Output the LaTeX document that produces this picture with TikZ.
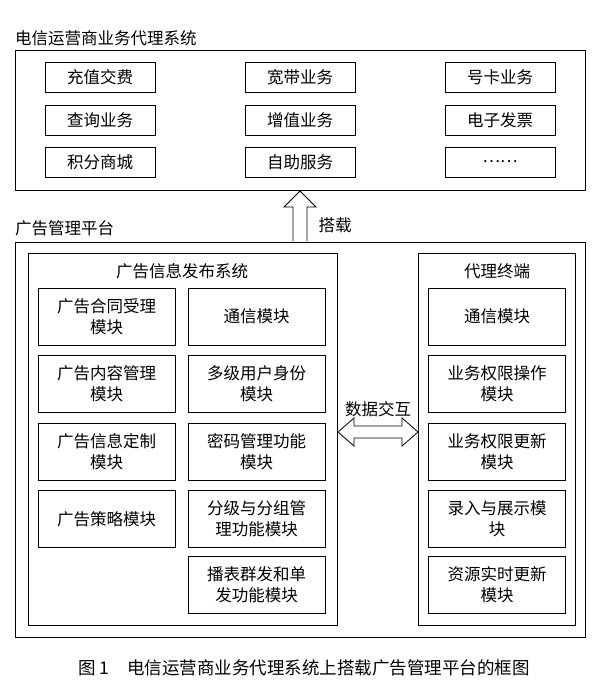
\documentclass[tikz,border=0pt]{standalone}
\usepackage{fontspec}
\newfontfamily\cjk{Noto Sans CJK SC}
\begin{document}
\begin{tikzpicture}[x=1pt,y=-1pt,
  every node/.style={font=\cjk\fontsize{16.5}{21}\selectfont},
  bx/.style={draw,line width=0.8pt,align=center,inner sep=0pt},
  frame/.style={draw,line width=0.8pt}]
\useasboundingbox (0,0) rectangle (600,690);
\node[anchor=west,inner sep=0pt] (t1) at (15,38) {电信运营商业务代理系统};
\draw[frame] (15,50) rectangle (585,190);
\foreach \x/\a/\b/\c [count=\i] in {45/充值交费/查询业务/积分商城,245/宽带业务/增值业务/自助服务,445/号卡业务/电子发票/……}{
  \node[bx,minimum width=110,minimum height=30] (r1\i) at (\x+55,77) {\a};
  \node[bx,minimum width=110,minimum height=30] (r2\i) at (\x+55,120) {\b};
  \node[bx,minimum width=110,minimum height=30] (r3\i) at (\x+55,162) {\c};
}
\node[anchor=west,inner sep=0pt] (t2) at (15,228) {广告管理平台};
\draw[frame] (15,242) rectangle (585,637);
\draw[frame] (28,253) rectangle (337,625);
\draw[frame] (418,253) rectangle (575,625);
\node (t3) at (182,271) {广告信息发布系统};
\node (t4) at (497,271) {代理终端};
\tikzset{cb/.style={bx,minimum width=137,minimum height=57}}
\node[cb] (a1) at (106.5,316.5) {广告合同受理\\模块};
\node[cb] (a2) at (106.5,383.5) {广告内容管理\\模块};
\node[cb] (a3) at (106.5,451.5) {广告信息定制\\模块};
\node[cb] (a4) at (106.5,519) {广告策略模块};
\node[cb] (b1) at (256.5,316.5) {通信模块};
\node[cb] (b2) at (256.5,383.5) {多级用户身份\\模块};
\node[cb] (b3) at (256.5,451.5) {密码管理功能\\模块};
\node[cb] (b4) at (256.5,519) {分级与分组管\\理功能模块};
\node[cb] (b5) at (256.5,585) {播表群发和单\\发功能模块};
\node[cb] (c1) at (497,316.5) {通信模块};
\node[cb] (c2) at (497,383.5) {业务权限操作\\模块};
\node[cb] (c3) at (497,451.5) {业务权限更新\\模块};
\node[cb] (c4) at (497,519) {录入与展示模\\块};
\node[cb] (c5) at (497,585) {资源实时更新\\模块};
\draw[frame,fill=white] (293,241) -- (293,207) -- (284,207) -- (300,191) -- (316,207) -- (307,207) -- (307,241);
\node (l1) at (335,225) {搭载};
\draw[frame,fill=white] (338,432) -- (354,418) -- (354,426) -- (402,426) -- (402,418) -- (418,432) -- (402,446) -- (402,438) -- (354,438) -- (354,446) -- cycle;
\node (l2) at (378,409) {数据交互};
\node[font=\cjk\fontsize{17.5}{21}\selectfont] (cap) at (304,668) {图 1\quad 电信运营商业务代理系统上搭载广告管理平台的框图};
\end{tikzpicture}
\end{document}
